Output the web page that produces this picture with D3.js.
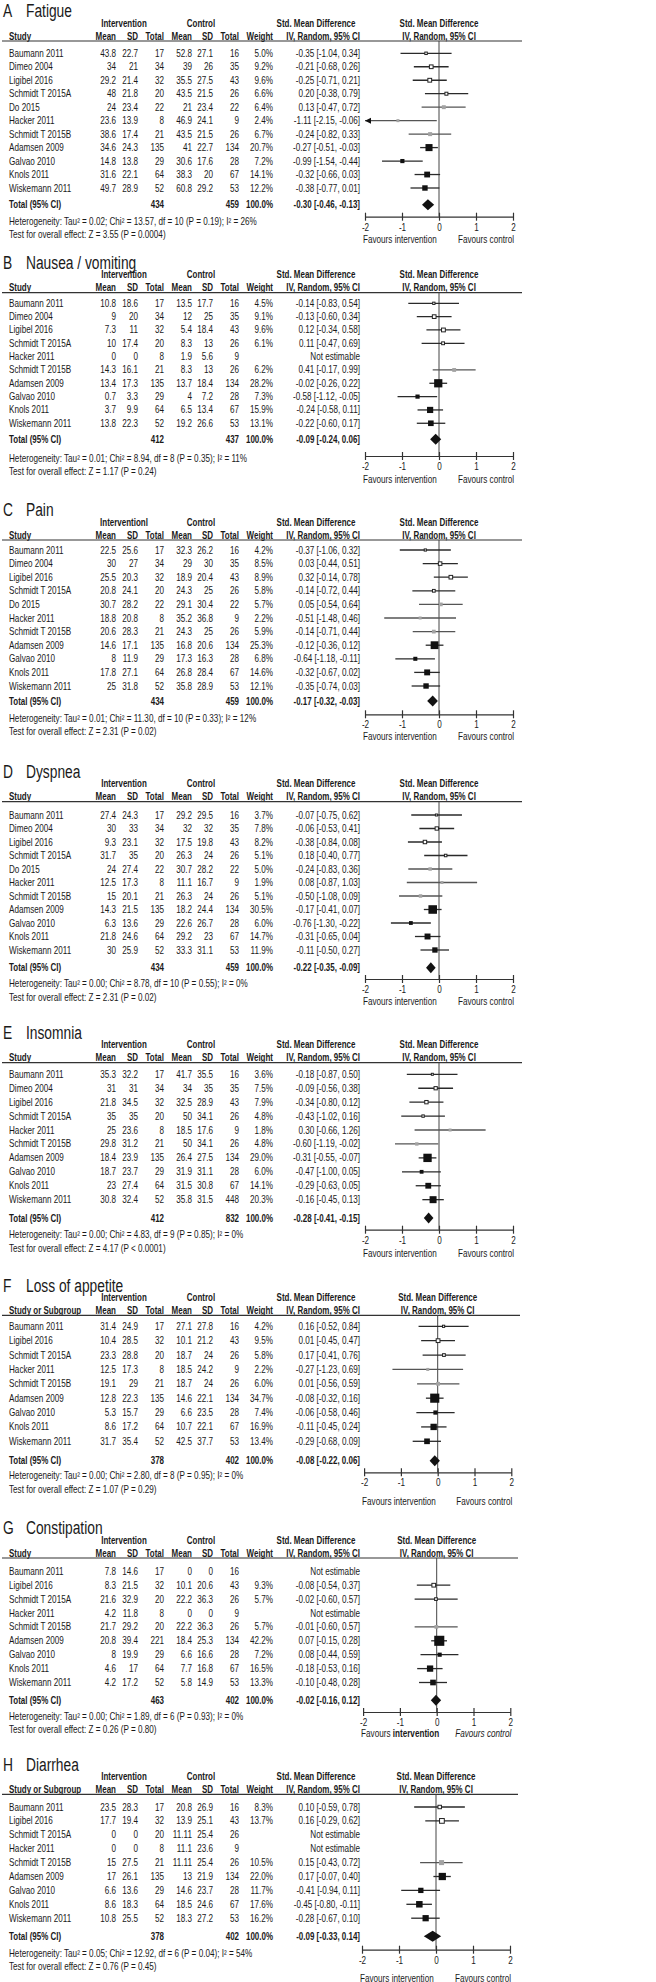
<!DOCTYPE html>
<html><head><meta charset="utf-8">
<script src="https://cdn.jsdelivr.net/npm/d3@7"></script>
<style>
body{margin:0;background:#fff}
svg{font-family:"Liberation Sans",Arial,sans-serif;}
</style></head><body><svg id="c" width="656" height="1982"></svg>
<script>
// ---------------- DATA ----------------
const panelLetters = ["A","B","C","D","E","F","G","H"];
const panelTitles = ["Fatigue","Nausea / vomiting","Pain","Dyspnea","Insomnia","Loss of appetite","Constipation","Diarrhea"];
const studyHeaders = ["Study","Study","Study","Study","Study","Study or Subgroup","Study","Study or Subgroup"];
const interventionHeaders = ["Intervention","Intervention","Interventionl","Intervention","Intervention","Intervention","Intervention","Intervention"];
const openStudies = ["Baumann 2011","Dimeo 2004","Ligibel 2016","Schmidt T 2015A"];
const grayStudies = ["Do 2015","Hacker 2011","Schmidt T 2015B"];
// [study, intMean, intSD, intN, ctlMean, ctlSD, ctlN, weight, smd, lower, upper]
const fatigue = [
  ["Baumann 2011",43.8,22.7,17,52.8,27.1,16,5.0,-0.35,-1.04,0.34],
  ["Dimeo 2004",34,21,34,39,26,35,9.2,-0.21,-0.68,0.26],
  ["Ligibel 2016",29.2,21.4,32,35.5,27.5,43,9.6,-0.25,-0.71,0.21],
  ["Schmidt T 2015A",48,21.8,20,43.5,21.5,26,6.6,0.20,-0.38,0.79],
  ["Do 2015",24,23.4,22,21,23.4,22,6.4,0.13,-0.47,0.72],
  ["Hacker 2011",23.6,13.9,8,46.9,24.1,9,2.4,-1.11,-2.15,-0.06],
  ["Schmidt T 2015B",38.6,17.4,21,43.5,21.5,26,6.7,-0.24,-0.82,0.33],
  ["Adamsen 2009",34.6,24.3,135,41,22.7,134,20.7,-0.27,-0.51,-0.03],
  ["Galvao 2010",14.8,13.8,29,30.6,17.6,28,7.2,-0.99,-1.54,-0.44],
  ["Knols 2011",31.6,22.1,64,38.3,20,67,14.1,-0.32,-0.66,0.03],
  ["Wiskemann 2011",49.7,28.9,52,60.8,29.2,53,12.2,-0.38,-0.77,0.01]
];
const nausea = [
  ["Baumann 2011",10.8,18.6,17,13.5,17.7,16,4.5,-0.14,-0.83,0.54],
  ["Dimeo 2004",9,20,34,12,25,35,9.1,-0.13,-0.60,0.34],
  ["Ligibel 2016",7.3,11,32,5.4,18.4,43,9.6,0.12,-0.34,0.58],
  ["Schmidt T 2015A",10,17.4,20,8.3,13,26,6.1,0.11,-0.47,0.69],
  ["Hacker 2011",0,0,8,1.9,5.6,9,null,null,null,null],
  ["Schmidt T 2015B",14.3,16.1,21,8.3,13,26,6.2,0.41,-0.17,0.99],
  ["Adamsen 2009",13.4,17.3,135,13.7,18.4,134,28.2,-0.02,-0.26,0.22],
  ["Galvao 2010",0.7,3.3,29,4,7.2,28,7.3,-0.58,-1.12,-0.05],
  ["Knols 2011",3.7,9.9,64,6.5,13.4,67,15.9,-0.24,-0.58,0.11],
  ["Wiskemann 2011",13.8,22.3,52,19.2,26.6,53,13.1,-0.22,-0.60,0.17]
];
const pain = [
  ["Baumann 2011",22.5,25.6,17,32.3,26.2,16,4.2,-0.37,-1.06,0.32],
  ["Dimeo 2004",30,27,34,29,30,35,8.5,0.03,-0.44,0.51],
  ["Ligibel 2016",25.5,20.3,32,18.9,20.4,43,8.9,0.32,-0.14,0.78],
  ["Schmidt T 2015A",20.8,24.1,20,24.3,25,26,5.8,-0.14,-0.72,0.44],
  ["Do 2015",30.7,28.2,22,29.1,30.4,22,5.7,0.05,-0.54,0.64],
  ["Hacker 2011",18.8,20.8,8,35.2,36.8,9,2.2,-0.51,-1.48,0.46],
  ["Schmidt T 2015B",20.6,28.3,21,24.3,25,26,5.9,-0.14,-0.71,0.44],
  ["Adamsen 2009",14.6,17.1,135,16.8,20.6,134,25.3,-0.12,-0.36,0.12],
  ["Galvao 2010",8,11.9,29,17.3,16.3,28,6.8,-0.64,-1.18,-0.11],
  ["Knols 2011",17.8,27.1,64,26.8,28.4,67,14.6,-0.32,-0.67,0.02],
  ["Wiskemann 2011",25,31.8,52,35.8,28.9,53,12.1,-0.35,-0.74,0.03]
];
const dyspnea = [
  ["Baumann 2011",27.4,24.3,17,29.2,29.5,16,3.7,-0.07,-0.75,0.62],
  ["Dimeo 2004",30,33,34,32,32,35,7.8,-0.06,-0.53,0.41],
  ["Ligibel 2016",9.3,23.1,32,17.5,19.8,43,8.2,-0.38,-0.84,0.08],
  ["Schmidt T 2015A",31.7,35,20,26.3,24,26,5.1,0.18,-0.40,0.77],
  ["Do 2015",24,27.4,22,30.7,28.2,22,5.0,-0.24,-0.83,0.36],
  ["Hacker 2011",12.5,17.3,8,11.1,16.7,9,1.9,0.08,-0.87,1.03],
  ["Schmidt T 2015B",15,20.1,21,26.3,24,26,5.1,-0.50,-1.08,0.09],
  ["Adamsen 2009",14.3,21.5,135,18.2,24.4,134,30.5,-0.17,-0.41,0.07],
  ["Galvao 2010",6.3,13.6,29,22.6,26.7,28,6.0,-0.76,-1.30,-0.22],
  ["Knols 2011",21.8,24.6,64,29.2,23,67,14.7,-0.31,-0.65,0.04],
  ["Wiskemann 2011",30,25.9,52,33.3,31.1,53,11.9,-0.11,-0.50,0.27]
];
const insomnia = [
  ["Baumann 2011",35.3,32.2,17,41.7,35.5,16,3.6,-0.18,-0.87,0.50],
  ["Dimeo 2004",31,31,34,34,35,35,7.5,-0.09,-0.56,0.38],
  ["Ligibel 2016",21.8,34.5,32,32.5,28.9,43,7.9,-0.34,-0.80,0.12],
  ["Schmidt T 2015A",35,35,20,50,34.1,26,4.8,-0.43,-1.02,0.16],
  ["Hacker 2011",25,23.6,8,18.5,17.6,9,1.8,0.30,-0.66,1.26],
  ["Schmidt T 2015B",29.8,31.2,21,50,34.1,26,4.8,-0.60,-1.19,-0.02],
  ["Adamsen 2009",18.4,23.9,135,26.4,27.5,134,29.0,-0.31,-0.55,-0.07],
  ["Galvao 2010",18.7,23.7,29,31.9,31.1,28,6.0,-0.47,-1.00,0.05],
  ["Knols 2011",23,27.4,64,31.5,30.8,67,14.1,-0.29,-0.63,0.05],
  ["Wiskemann 2011",30.8,32.4,52,35.8,31.5,448,20.3,-0.16,-0.45,0.13]
];
const appetite = [
  ["Baumann 2011",31.4,24.9,17,27.1,27.8,16,4.2,0.16,-0.52,0.84],
  ["Ligibel 2016",10.4,28.5,32,10.1,21.2,43,9.5,0.01,-0.45,0.47],
  ["Schmidt T 2015A",23.3,28.8,20,18.7,24,26,5.8,0.17,-0.41,0.76],
  ["Hacker 2011",12.5,17.3,8,18.5,24.2,9,2.2,-0.27,-1.23,0.69],
  ["Schmidt T 2015B",19.1,29,21,18.7,24,26,6.0,0.01,-0.56,0.59],
  ["Adamsen 2009",12.8,22.3,135,14.6,22.1,134,34.7,-0.08,-0.32,0.16],
  ["Galvao 2010",5.3,15.7,29,6.6,23.5,28,7.4,-0.06,-0.58,0.46],
  ["Knols 2011",8.6,17.2,64,10.7,22.1,67,16.9,-0.11,-0.45,0.24],
  ["Wiskemann 2011",31.7,35.4,52,42.5,37.7,53,13.4,-0.29,-0.68,0.09]
];
const constipation = [
  ["Baumann 2011",7.8,14.6,17,0,0,16,null,null,null,null],
  ["Ligibel 2016",8.3,21.5,32,10.1,20.6,43,9.3,-0.08,-0.54,0.37],
  ["Schmidt T 2015A",21.6,32.9,20,22.2,36.3,26,5.7,-0.02,-0.60,0.57],
  ["Hacker 2011",4.2,11.8,8,0,0,9,null,null,null,null],
  ["Schmidt T 2015B",21.7,29.2,20,22.2,36.3,26,5.7,-0.01,-0.60,0.57],
  ["Adamsen 2009",20.8,39.4,221,18.4,25.3,134,42.2,0.07,-0.15,0.28],
  ["Galvao 2010",8,19.9,29,6.6,16.6,28,7.2,0.08,-0.44,0.59],
  ["Knols 2011",4.6,17,64,7.7,16.8,67,16.5,-0.18,-0.53,0.16],
  ["Wiskemann 2011",4.2,17.2,52,5.8,14.9,53,13.3,-0.10,-0.48,0.28]
];
const diarrhea = [
  ["Baumann 2011",23.5,28.3,17,20.8,26.9,16,8.3,0.10,-0.59,0.78],
  ["Ligibel 2016",17.7,19.4,32,13.9,25.1,43,13.7,0.16,-0.29,0.62],
  ["Schmidt T 2015A",0,0,20,11.11,25.4,26,null,null,null,null],
  ["Hacker 2011",0,0,8,11.1,23.6,9,null,null,null,null],
  ["Schmidt T 2015B",15,27.5,21,11.11,25.4,26,10.5,0.15,-0.43,0.72],
  ["Adamsen 2009",17,26.1,135,13,21.9,134,22.0,0.17,-0.07,0.40],
  ["Galvao 2010",6.6,13.6,29,14.6,23.7,28,11.7,-0.41,-0.94,0.11],
  ["Knols 2011",8.6,18.3,64,18.5,24.6,67,17.6,-0.45,-0.80,-0.11],
  ["Wiskemann 2011",10.8,25.5,52,18.3,27.2,53,16.2,-0.28,-0.67,0.10]
];
const panelRows = [fatigue, nausea, pain, dyspnea, insomnia, appetite, constipation, diarrhea];
const totalN = [[434,459],[412,437],[434,459],[434,459],[412,832],[378,402],[463,402],[378,402]];
const totalEffect = [[-0.30,-0.46,-0.13],[-0.09,-0.24,0.06],[-0.17,-0.32,-0.03],[-0.22,-0.35,-0.09],
                     [-0.28,-0.41,-0.15],[-0.08,-0.22,0.06],[-0.02,-0.16,0.12],[-0.09,-0.33,0.14]];
const heterogeneity = [
  "Heterogeneity: Tau² = 0.02; Chi² = 13.57, df = 10 (P = 0.19); I² = 26%",
  "Heterogeneity: Tau² = 0.01; Chi² = 8.94, df = 8 (P = 0.35); I² = 11%",
  "Heterogeneity: Tau² = 0.01; Chi² = 11.30, df = 10 (P = 0.33); I² = 12%",
  "Heterogeneity: Tau² = 0.00; Chi² = 8.78, df = 10 (P = 0.55); I² = 0%",
  "Heterogeneity: Tau² = 0.00; Chi² = 4.83, df = 9 (P = 0.85); I² = 0%",
  "Heterogeneity: Tau² = 0.00; Chi² = 2.80, df = 8 (P = 0.95); I² = 0%",
  "Heterogeneity: Tau² = 0.00; Chi² = 1.89, df = 6 (P = 0.93); I² = 0%",
  "Heterogeneity: Tau² = 0.05; Chi² = 12.92, df = 6 (P = 0.04); I² = 54%"
];
const overallTests = [
  "Test for overall effect: Z = 3.55 (P = 0.0004)",
  "Test for overall effect: Z = 1.17 (P = 0.24)",
  "Test for overall effect: Z = 2.31 (P = 0.02)",
  "Test for overall effect: Z = 2.31 (P = 0.02)",
  "Test for overall effect: Z = 4.17 (P < 0.0001)",
  "Test for overall effect: Z = 1.07 (P = 0.29)",
  "Test for overall effect: Z = 0.26 (P = 0.80)",
  "Test for overall effect: Z = 0.76 (P = 0.45)"
];
const axisTicks = [-2,-1,0,1,2];
const axisDomain = [-2,2];

// ---------------- LAYOUT ----------------
const layout = [
  {line:41,   row0:53.3,  step:13.47, total:204.7, axis:216.7, het:221.3, test:234.7, fav:239.3, x0:439,   u:37,   right:522},
  {line:292.7,row0:303.3, step:13.33, total:439.3, axis:456,   het:458.3, test:471.7, fav:479.3, x0:439,   u:37,   right:522},
  {line:540,  row0:550,   step:13.6,  total:701,   axis:714.3, het:718.3, test:731,   fav:736,   x0:439,   u:37,   right:522},
  {line:801.7,row0:815,   step:13.5,  total:967.7, axis:979,   het:983.3, test:997.3, fav:1001,  x0:439,   u:37,   right:522},
  {line:1062.7,row0:1074.3,step:13.93,total:1218,  axis:1229.7,het:1234.7,test:1248,  fav:1253,  x0:439,   u:37,   right:522},
  {line:1315.3,row0:1326.3,step:14.375,total:1460.7,axis:1472.3,het:1475.7,test:1489.7,fav:1501.3,x0:437.7,u:36.8,right:520},
  {line:1558, row0:1571.3,step:13.9,  total:1700.3,axis:1712,  het:1716,  test:1729.7,fav:1733.7,x0:436.7, u:36.8, right:518},
  {line:1794.3,row0:1807, step:13.9,  total:1936.3,axis:1949.7,het:1953,  test:1966.3,fav:1978,  x0:436,   u:37,   right:518}
];
const col = {study:9, im:116, isd:138, in:164, cm:192, csd:213, cn:239, w:273, ci:360};
const FS = 10, TXT = "#1a1a1a";

const svg = d3.select("#c");
// horizontal condensing factors so that Liberation Sans matches the narrow original face
function measure(str, size, bold) {
  const t = svg.append("text").attr("font-size", size).attr("font-weight", bold ? "bold" : null).text(str);
  const w = t.node().getComputedTextLength(); t.remove(); return w;
}
const SX = 248 / measure(heterogeneity[0], FS, false);
const SXB = 79 / measure("Std. Mean Difference", FS, true);
const SXT = 46 / measure("Fatigue", 18, false);

const fmt2 = d => d.toFixed(2);
const sqSize = d3.scaleSqrt().domain([0,100]).range([0,15.5]);

panelRows.forEach((rows, p) => {
  const L = layout[p];
  const g = svg.append("g");
  const x = d3.scaleLinear().domain(axisDomain).range([L.x0 - 2*L.u, L.x0 + 2*L.u]);
  const text = (tx, ty, s, anchor, opts={}) => {
    const sx = opts.sx || (opts.bold ? SXB : SX);
    const t = g.append("text").attr("transform", `translate(${tx},${ty}) scale(${sx},1)`)
      .attr("dy","0.35em")
      .attr("font-size", opts.size || FS).attr("fill", TXT)
      .attr("text-anchor", anchor || "start");
    if (s !== null) t.text(s);
    if (opts.bold) t.attr("font-weight","bold");
    return t;
  };
  // title
  text(3, L.line - 30, panelLetters[p], "start", {size:18, sx:SXT});
  text(26, L.line - 30, panelTitles[p], "start", {size:18, sx:SXT});
  // headers
  const h1 = L.line - 18, h2 = L.line - 5;
  text(124, h1, interventionHeaders[p], "middle", {bold:true});
  text(201, h1, "Control", "middle", {bold:true});
  text(316, h1, "Std. Mean Difference", "middle", {bold:true});
  text(L.x0, h1, "Std. Mean Difference", "middle", {bold:true});
  text(col.study, h2, studyHeaders[p], "start", {bold:true});
  [["Mean",col.im],["SD",col.isd],["Total",col.in],["Mean",col.cm],["SD",col.csd],["Total",col.cn],["Weight",col.w],["IV, Random, 95% CI",col.ci]]
    .forEach(([s,cx]) => text(cx, h2, s, "end", {bold:true}));
  text(L.x0, h2, "IV, Random, 95% CI", "middle", {bold:true});
  g.append("line").attr("x1",2).attr("x2",L.right).attr("y1",L.line).attr("y2",L.line)
    .attr("stroke","#333").attr("stroke-width",1.2);
  // zero line
  g.append("line").attr("x1",x(0)).attr("x2",x(0)).attr("y1",L.line).attr("y2",L.axis)
    .attr("stroke","#444").attr("stroke-width",1);

  rows.forEach((r, i) => {
    const y = L.row0 + i*L.step;
    const [name, im, isd, inn, cm, csd, cn, w, smd, lo, hi] = r;
    text(col.study, y, name, "start");
    text(col.im, y, String(im), "end");
    text(col.isd, y, String(isd), "end");
    text(col.in, y, String(inn), "end");
    text(col.cm, y, String(cm), "end");
    text(col.csd, y, String(csd), "end");
    text(col.cn, y, String(cn), "end");
    if (w === null) {
      text(col.ci, y, "Not estimable", "end");
      return;
    }
    text(col.w, y, w.toFixed(1) + "%", "end");
    text(col.ci, y, `${fmt2(smd)} [${fmt2(lo)}, ${fmt2(hi)}]`, "end");
    const kind = openStudies.includes(name) ? "open" : grayStudies.includes(name) ? "gray" : "black";
    const lineCol = kind === "gray" ? "#555" : "#2a2a2a";
    const clo = Math.max(lo, axisDomain[0]), chi = Math.min(hi, axisDomain[1]);
    g.append("line").attr("x1", x(clo)).attr("x2", x(chi)).attr("y1", y).attr("y2", y)
      .attr("stroke", lineCol).attr("stroke-width", 1.3);
    if (lo < axisDomain[0]) {
      const ax = x(axisDomain[0]);
      g.append("path").attr("d", `M${ax},${y} L${ax+6},${y-3} L${ax+6},${y+3} Z`).attr("fill","#111");
    }
    const s = Math.max(3, sqSize(w));
    const sq = g.append("rect").attr("x", x(smd)-s/2).attr("y", y-s/2).attr("width", s).attr("height", s);
    if (kind === "open") sq.attr("fill","#fff").attr("stroke","#222").attr("stroke-width",1)
      .attr("x", x(smd)-s/2+0.5).attr("y", y-s/2+0.5).attr("width", s-1).attr("height", s-1);
    else if (kind === "gray") sq.attr("fill","#a3a3a3");
    else sq.attr("fill","#111");
  });

  // totals
  const ty = L.total;
  const [te, tl, th] = totalEffect[p];
  text(col.study, ty, "Total (95% CI)", "start", {bold:true});
  text(col.in, ty, String(totalN[p][0]), "end", {bold:true});
  text(col.cn, ty, String(totalN[p][1]), "end", {bold:true});
  text(col.w, ty, "100.0%", "end", {bold:true});
  text(col.ci, ty, `${fmt2(te)} [${fmt2(tl)}, ${fmt2(th)}]`, "end", {bold:true});
  g.append("path").attr("d", `M${x(tl)},${ty} L${x(te)},${ty-5.5} L${x(th)},${ty} L${x(te)},${ty+5.5} Z`)
    .attr("fill","#111");
  text(col.study, L.het, heterogeneity[p], "start");
  text(col.study, L.test, overallTests[p], "start");

  // axis
  const axG = g.append("g").attr("transform", `translate(0,${L.axis})`)
    .call(d3.axisBottom(x).tickValues(axisTicks).tickFormat(d3.format("")).tickSizeOuter(0));
  axG.attr("font-family", null);
  axG.select(".domain").attr("stroke","#333").attr("stroke-width",1.2);
  axG.selectAll(".tick line").attr("y1",-4).attr("y2",4).attr("stroke","#333").attr("stroke-width",1.2);
  axG.selectAll(".tick text").attr("y", null).attr("dy", null)
    .attr("transform", `translate(0,10.5) scale(${SX},1)`).attr("dy","0.35em")
    .attr("font-size", FS).attr("fill", TXT).text(d => String(d).replace("−","-"));
  // favours labels
  const fl = text(x(-2) - 2, L.fav, null, "start");
  const fr = text(x(2) + 1, L.fav, null, "end");
  if (p === 6) {
    fl.append("tspan").text("Favours ");
    fl.append("tspan").attr("font-weight","bold").text("intervention");
    fr.attr("font-style","italic").text("Favours control");
  } else {
    fl.text("Favours intervention");
    fr.text("Favours control");
  }
});
</script></body></html>
